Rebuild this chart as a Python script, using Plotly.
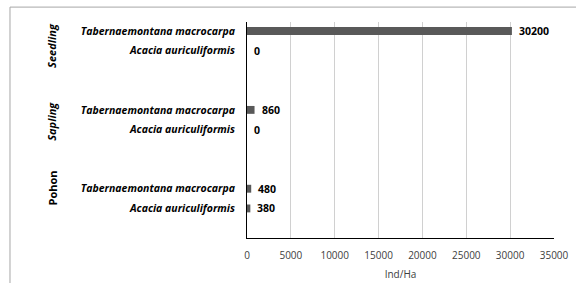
import plotly.graph_objects as go

groups = ["Seedling", "Seedling", "Sapling", "Sapling", "Pohon", "Pohon"]
species = ["Tabernaemontana macrocarpa", "Acacia auriculiformis",
           "Tabernaemontana macrocarpa", "Acacia auriculiformis",
           "Tabernaemontana macrocarpa", "Acacia auriculiformis"]
values = [30200, 0, 860, 0, 480, 380]
slot_pos = [0, 1, 4, 5, 8, 9]
group_names = ["Seedling", "Sapling", "Pohon"]
group_centers = [0.75, 4.6, 7.98]
x_ticks = [0, 5000, 10000, 15000, 20000, 25000, 30000, 35000]

fig = go.Figure()
fig.add_trace(go.Bar(
    x=values, y=slot_pos, orientation="h", width=0.4,
    marker=dict(color="#595959", line=dict(width=0)),
    showlegend=False, hoverinfo="skip",
))

for v, p in zip(values, slot_pos):
    fig.add_annotation(x=v, y=p, xref="x", yref="y", text=f"<b>{v}</b>",
                       showarrow=False, xanchor="left", xshift=5,
                       font=dict(family="Open Sans", size=10.5, color="#000000"))

for name, c in zip(group_names, group_centers):
    txt = f"<b>{name}</b>" if name == "Pohon" else f"<b><i>{name}</i></b>"
    fig.add_annotation(x=-0.635, y=c, xref="paper", yref="y", text=txt,
                       showarrow=False, textangle=-90, xanchor="center", yanchor="middle",
                       font=dict(family="Open Sans", size=11, color="#000000"))

fig.add_shape(type="line", xref="paper", yref="paper", x0=-0.772, x1=1.2,
              y0=1.069, y1=1.069, line=dict(color="#a6a6a6", width=1))
fig.add_shape(type="line", xref="paper", yref="paper", x0=-0.772, x1=-0.772,
              y0=1.069, y1=-0.3, line=dict(color="#a6a6a6", width=1))

fig.update_layout(
    width=576, height=283,
    margin=dict(l=247, r=22, t=22, b=45),
    paper_bgcolor="white", plot_bgcolor="white",
    xaxis=dict(range=[0, 35000], tickvals=x_ticks, ticktext=[str(t) for t in x_ticks],
               automargin=False,
               showgrid=True, gridcolor="#d0d0d0", gridwidth=1,
               showline=True, linecolor="#000000", linewidth=1,
               zeroline=False, ticks="outside", ticklen=8, tickcolor="rgba(0,0,0,0)",
               tickfont=dict(family="Open Sans", size=10, color="#404040"),
               title=dict(text="Ind/Ha", standoff=9,
                          font=dict(family="Open Sans", size=10, color="#404040"))),
    yaxis=dict(range=[10.5, -0.46], tickvals=slot_pos,
               ticktext=[f"<b><i>{s}</i></b>" for s in species],
               automargin=False,
               showgrid=False, showline=True, linecolor="#000000", linewidth=1,
               zeroline=False, ticks="outside", ticklen=9, tickcolor="rgba(0,0,0,0)",
               tickfont=dict(family="Open Sans", size=10.5, color="#000000")),
)

fig.write_html("out.html", config={"displayModeBar": False},
               post_script="document.body.style.margin='0';document.body.style.overflow='hidden';")
